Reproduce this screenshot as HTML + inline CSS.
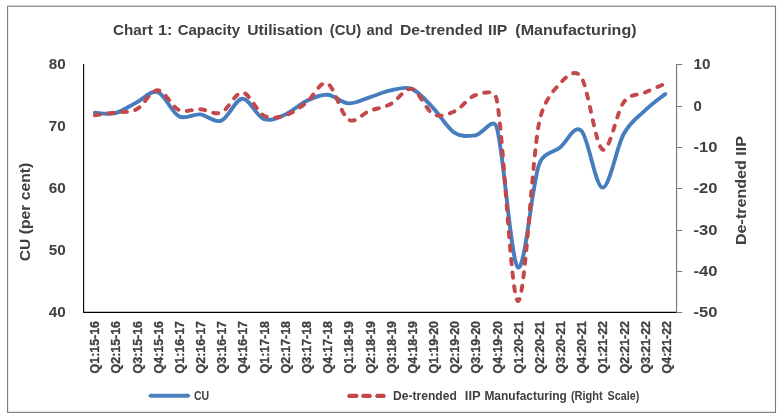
<!DOCTYPE html>
<html lang="en"><head><meta charset="utf-8"><title>Chart 1: Capacity Utilisation (CU) and De-trended IIP (Manufacturing)</title>
<style>html,body{margin:0;padding:0;background:#fff;}svg{display:block;}text{font-family:"Liberation Sans",sans-serif;font-weight:bold;fill:#404040;stroke:#404040;stroke-width:0;}.xl text{stroke-width:0.3px;}</style></head><body>
<svg width="782" height="419" viewBox="0 0 782 419">
<rect x="0" y="0" width="782" height="419" fill="#ffffff"/>
<rect x="7.6" y="6.25" width="767.9" height="406.1" fill="none" stroke="#777777" stroke-width="1.1"/>
<g font-size="14.80">
<text x="113.0" y="34.8" textLength="39.8" lengthAdjust="spacingAndGlyphs">Chart</text>
<text x="157.9" y="34.8" textLength="14.5" lengthAdjust="spacingAndGlyphs">1:</text>
<text x="177.7" y="34.8" textLength="62.3" lengthAdjust="spacingAndGlyphs">Capacity</text>
<text x="247.3" y="34.8" textLength="75.6" lengthAdjust="spacingAndGlyphs">Utilisation</text>
<text x="329.8" y="34.8" textLength="31.4" lengthAdjust="spacingAndGlyphs">(CU)</text>
<text x="366.5" y="34.8" textLength="26.1" lengthAdjust="spacingAndGlyphs">and</text>
<text x="399.9" y="34.8" textLength="82.9" lengthAdjust="spacingAndGlyphs">De-trended</text>
<text x="488.1" y="34.8" textLength="19.2" lengthAdjust="spacingAndGlyphs">IIP</text>
<text x="515.3" y="34.8" textLength="121.3" lengthAdjust="spacingAndGlyphs">(Manufacturing)</text>
</g>
<text x="65.8" y="69.4" font-size="14.80" text-anchor="end" textLength="17" lengthAdjust="spacingAndGlyphs">80</text>
<text x="65.8" y="131.4" font-size="14.80" text-anchor="end" textLength="17" lengthAdjust="spacingAndGlyphs">70</text>
<text x="65.8" y="193.3" font-size="14.80" text-anchor="end" textLength="17" lengthAdjust="spacingAndGlyphs">60</text>
<text x="65.8" y="255.3" font-size="14.80" text-anchor="end" textLength="17" lengthAdjust="spacingAndGlyphs">50</text>
<text x="65.8" y="317.3" font-size="14.80" text-anchor="end" textLength="17" lengthAdjust="spacingAndGlyphs">40</text>
<text x="693.6" y="69.4" font-size="14.80" textLength="17.0" lengthAdjust="spacingAndGlyphs">10</text>
<text x="693.6" y="110.7" font-size="14.80" textLength="8.3" lengthAdjust="spacingAndGlyphs">0</text>
<text x="693.6" y="152.0" font-size="14.80" textLength="24.0" lengthAdjust="spacingAndGlyphs">-10</text>
<text x="693.6" y="193.3" font-size="14.80" textLength="24.0" lengthAdjust="spacingAndGlyphs">-20</text>
<text x="693.6" y="234.7" font-size="14.80" textLength="24.0" lengthAdjust="spacingAndGlyphs">-30</text>
<text x="693.6" y="276.0" font-size="14.80" textLength="24.0" lengthAdjust="spacingAndGlyphs">-40</text>
<text x="693.6" y="317.3" font-size="14.80" textLength="24.0" lengthAdjust="spacingAndGlyphs">-50</text>
<text transform="translate(29.6,261.2) rotate(-90)" font-size="14.6" textLength="98.4" lengthAdjust="spacingAndGlyphs">CU (per cent)</text>
<text transform="translate(745.7,245) rotate(-90)" font-size="14.6" textLength="109" lengthAdjust="spacingAndGlyphs">De-trended IIP</text>
<g class="xl">
<text transform="translate(99.19,321.0) rotate(-90)" font-size="12.7" text-anchor="end" textLength="52.4" lengthAdjust="spacingAndGlyphs">Q1:15-16</text>
<text transform="translate(120.37,321.0) rotate(-90)" font-size="12.7" text-anchor="end" textLength="52.4" lengthAdjust="spacingAndGlyphs">Q2:15-16</text>
<text transform="translate(141.55,321.0) rotate(-90)" font-size="12.7" text-anchor="end" textLength="52.4" lengthAdjust="spacingAndGlyphs">Q3:15-16</text>
<text transform="translate(162.72,321.0) rotate(-90)" font-size="12.7" text-anchor="end" textLength="52.4" lengthAdjust="spacingAndGlyphs">Q4:15-16</text>
<text transform="translate(183.90,321.0) rotate(-90)" font-size="12.7" text-anchor="end" textLength="52.4" lengthAdjust="spacingAndGlyphs">Q1:16-17</text>
<text transform="translate(205.08,321.0) rotate(-90)" font-size="12.7" text-anchor="end" textLength="52.4" lengthAdjust="spacingAndGlyphs">Q2:16-17</text>
<text transform="translate(226.26,321.0) rotate(-90)" font-size="12.7" text-anchor="end" textLength="52.4" lengthAdjust="spacingAndGlyphs">Q3:16-17</text>
<text transform="translate(247.44,321.0) rotate(-90)" font-size="12.7" text-anchor="end" textLength="52.4" lengthAdjust="spacingAndGlyphs">Q4:16-17</text>
<text transform="translate(268.62,321.0) rotate(-90)" font-size="12.7" text-anchor="end" textLength="52.4" lengthAdjust="spacingAndGlyphs">Q1:17-18</text>
<text transform="translate(289.80,321.0) rotate(-90)" font-size="12.7" text-anchor="end" textLength="52.4" lengthAdjust="spacingAndGlyphs">Q2:17-18</text>
<text transform="translate(310.97,321.0) rotate(-90)" font-size="12.7" text-anchor="end" textLength="52.4" lengthAdjust="spacingAndGlyphs">Q3:17-18</text>
<text transform="translate(332.15,321.0) rotate(-90)" font-size="12.7" text-anchor="end" textLength="52.4" lengthAdjust="spacingAndGlyphs">Q4:17-18</text>
<text transform="translate(353.33,321.0) rotate(-90)" font-size="12.7" text-anchor="end" textLength="52.4" lengthAdjust="spacingAndGlyphs">Q1:18-19</text>
<text transform="translate(374.51,321.0) rotate(-90)" font-size="12.7" text-anchor="end" textLength="52.4" lengthAdjust="spacingAndGlyphs">Q2:18-19</text>
<text transform="translate(395.69,321.0) rotate(-90)" font-size="12.7" text-anchor="end" textLength="52.4" lengthAdjust="spacingAndGlyphs">Q3:18-19</text>
<text transform="translate(416.87,321.0) rotate(-90)" font-size="12.7" text-anchor="end" textLength="52.4" lengthAdjust="spacingAndGlyphs">Q4:18-19</text>
<text transform="translate(438.05,321.0) rotate(-90)" font-size="12.7" text-anchor="end" textLength="52.4" lengthAdjust="spacingAndGlyphs">Q1:19-20</text>
<text transform="translate(459.23,321.0) rotate(-90)" font-size="12.7" text-anchor="end" textLength="52.4" lengthAdjust="spacingAndGlyphs">Q2:19-20</text>
<text transform="translate(480.40,321.0) rotate(-90)" font-size="12.7" text-anchor="end" textLength="52.4" lengthAdjust="spacingAndGlyphs">Q3:19-20</text>
<text transform="translate(501.58,321.0) rotate(-90)" font-size="12.7" text-anchor="end" textLength="52.4" lengthAdjust="spacingAndGlyphs">Q4:19-20</text>
<text transform="translate(522.76,321.0) rotate(-90)" font-size="12.7" text-anchor="end" textLength="52.4" lengthAdjust="spacingAndGlyphs">Q1:20-21</text>
<text transform="translate(543.94,321.0) rotate(-90)" font-size="12.7" text-anchor="end" textLength="52.4" lengthAdjust="spacingAndGlyphs">Q2:20-21</text>
<text transform="translate(565.12,321.0) rotate(-90)" font-size="12.7" text-anchor="end" textLength="52.4" lengthAdjust="spacingAndGlyphs">Q3:20-21</text>
<text transform="translate(586.30,321.0) rotate(-90)" font-size="12.7" text-anchor="end" textLength="52.4" lengthAdjust="spacingAndGlyphs">Q4:20-21</text>
<text transform="translate(607.48,321.0) rotate(-90)" font-size="12.7" text-anchor="end" textLength="52.4" lengthAdjust="spacingAndGlyphs">Q1:21-22</text>
<text transform="translate(628.65,321.0) rotate(-90)" font-size="12.7" text-anchor="end" textLength="52.4" lengthAdjust="spacingAndGlyphs">Q2:21-22</text>
<text transform="translate(649.83,321.0) rotate(-90)" font-size="12.7" text-anchor="end" textLength="52.4" lengthAdjust="spacingAndGlyphs">Q3:21-22</text>
<text transform="translate(671.01,321.0) rotate(-90)" font-size="12.7" text-anchor="end" textLength="52.4" lengthAdjust="spacingAndGlyphs">Q4:21-22</text>
</g>
<line x1="83.6" y1="63.9" x2="83.6" y2="312.9" stroke="#000" stroke-width="1.1"/>
<line x1="83.0" y1="312.4" x2="676.8" y2="312.4" stroke="#000" stroke-width="1.1"/>
<line x1="676.6" y1="64.0" x2="676.6" y2="312.4" stroke="#666666" stroke-width="1"/>
<line x1="676.6" y1="64.5" x2="682.2" y2="64.5" stroke="#6a6a6a" stroke-width="0.9"/>
<line x1="676.6" y1="106.5" x2="682.2" y2="106.5" stroke="#6a6a6a" stroke-width="0.9"/>
<line x1="676.6" y1="147.5" x2="682.2" y2="147.5" stroke="#6a6a6a" stroke-width="0.9"/>
<line x1="676.6" y1="188.5" x2="682.2" y2="188.5" stroke="#6a6a6a" stroke-width="0.9"/>
<line x1="676.6" y1="230.5" x2="682.2" y2="230.5" stroke="#6a6a6a" stroke-width="0.9"/>
<line x1="676.6" y1="271.5" x2="682.2" y2="271.5" stroke="#6a6a6a" stroke-width="0.9"/>
<line x1="676.6" y1="312.5" x2="682.2" y2="312.5" stroke="#6a6a6a" stroke-width="0.9"/>
<path d="M94.89 112.80 C98.30 112.85 108.42 114.82 115.37 113.10 C122.31 111.38 129.49 105.98 136.55 102.50 C143.61 99.02 150.67 89.90 157.72 92.20 C164.78 94.50 171.84 112.60 178.90 116.30 C185.96 120.00 193.02 113.67 200.08 114.40 C207.14 115.13 214.20 123.30 221.26 120.70 C228.32 118.10 235.38 99.08 242.44 98.80 C249.50 98.52 256.56 116.33 263.62 119.00 C270.68 121.67 277.74 117.77 284.80 114.80 C291.86 111.83 298.92 104.55 305.97 101.20 C313.03 97.85 320.09 94.33 327.15 94.70 C334.21 95.07 341.27 102.97 348.33 103.40 C355.39 103.83 362.45 99.47 369.51 97.30 C376.57 95.13 383.63 91.80 390.69 90.40 C397.75 89.00 404.81 86.00 411.87 88.90 C418.93 91.80 425.99 100.52 433.05 107.80 C440.11 115.08 447.17 128.02 454.23 132.60 C461.28 137.18 468.34 136.23 475.40 135.30 C482.46 134.37 493.10 116.17 496.58 127.00 C503.64 148.98 510.70 260.90 517.76 267.20 C524.82 273.50 531.88 184.77 538.94 164.80 C543.51 151.88 553.06 153.08 560.12 147.40 C567.18 141.72 574.24 124.00 581.30 130.70 C588.36 137.40 595.42 187.05 602.48 187.60 C609.53 188.15 616.59 146.83 623.65 134.00 C630.71 121.17 637.89 117.27 644.83 110.60 C651.77 103.93 661.90 96.77 665.31 94.00" fill="none" stroke="#457dbf" stroke-width="3.9" stroke-linecap="round" stroke-linejoin="round"/>
<path d="M94.89 115.30 C98.30 114.83 108.42 113.50 115.37 112.50 C122.31 111.50 129.49 113.00 136.55 109.30 C143.61 105.60 150.67 90.18 157.72 90.30 C164.78 90.42 171.84 106.85 178.90 110.00 C185.96 113.15 193.02 108.78 200.08 109.20 C207.14 109.62 214.20 115.28 221.26 112.50 C228.32 109.72 235.38 92.02 242.44 92.50 C249.50 92.98 256.56 111.57 263.62 115.40 C270.68 119.23 277.74 117.57 284.80 115.50 C291.86 113.43 298.92 108.37 305.97 103.00 C313.03 97.63 320.09 80.55 327.15 83.30 C334.21 86.05 341.27 114.90 348.33 119.50 C355.39 124.10 362.45 113.47 369.51 110.90 C376.57 108.33 383.63 107.77 390.69 104.10 C397.75 100.43 404.81 87.25 411.87 88.90 C418.93 90.55 425.99 110.23 433.05 114.00 C440.11 117.77 447.17 114.63 454.23 111.50 C461.28 108.37 468.34 97.28 475.40 95.20 C482.46 93.12 494.41 88.46 496.58 99.00 C503.64 133.30 510.70 296.92 517.76 301.00 C524.82 305.08 531.88 159.78 538.94 123.50 C543.28 101.20 553.06 91.00 560.12 83.30 C567.18 75.60 575.36 68.03 581.30 77.30 C588.36 88.33 595.42 145.33 602.48 149.50 C609.53 153.67 616.59 111.78 623.65 102.30 C630.61 92.96 637.89 95.72 644.83 92.60 C651.77 89.48 661.90 85.10 665.31 83.60" fill="none" stroke="#c4474a" stroke-width="3.9" stroke-dasharray="5.1 8.475" stroke-linecap="round" stroke-linejoin="round"/>
<polygon points="148.0,395.70 150.0,393.70 188.6,393.70 190.6,395.70 188.6,397.70 150.0,397.70" fill="#4b7fbd"/>
<text x="194.0" y="399.7" font-size="12.1" textLength="15.2" lengthAdjust="spacingAndGlyphs">CU</text>
<polygon points="346.9,395.90 348.5,393.85 357.2,393.85 358.8,395.90 357.2,397.95 348.5,397.95" fill="#c4474a"/>
<polygon points="360.9,395.90 362.5,393.85 370.5,393.85 372.1,395.90 370.5,397.95 362.5,397.95" fill="#c4474a"/>
<polygon points="374.9,395.90 376.5,393.85 384.4,393.85 386.0,395.90 384.4,397.95 376.5,397.95" fill="#c4474a"/>
<text x="393.0" y="399.7" font-size="12.1" textLength="63.8" lengthAdjust="spacingAndGlyphs">De-trended</text>
<text x="464.8" y="399.7" font-size="12.1" textLength="15.8" lengthAdjust="spacingAndGlyphs">IIP</text>
<text x="484.4" y="399.7" font-size="12.1" textLength="82.5" lengthAdjust="spacingAndGlyphs">Manufacturing</text>
<text x="570.9" y="399.7" font-size="12.1" textLength="31.8" lengthAdjust="spacingAndGlyphs">(Right</text>
<text x="607.6" y="399.7" font-size="12.1" textLength="31.7" lengthAdjust="spacingAndGlyphs">Scale)</text>
</svg></body></html>
